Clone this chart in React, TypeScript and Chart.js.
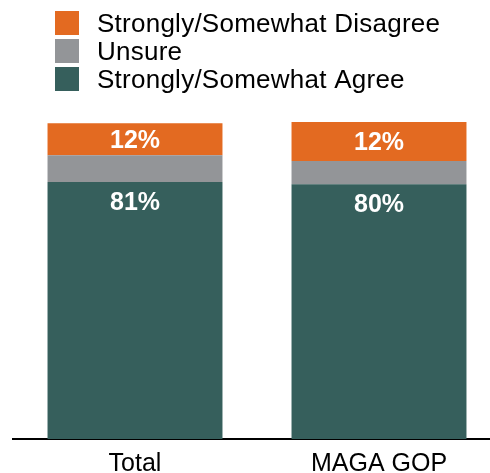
import React, { useEffect, useRef } from "react";
import { Chart, registerables } from "chart.js";

Chart.register(...registerables);

const categories = ["Total", "MAGA GOP"];
const agreeValues = [81.1, 80.4];
const unsureValues = [8.4, 7.3];
const disagreeValues = [10.1, 12.7];
const agreeLabels = ["81%", "80%"];
const disagreeLabels = ["12%", "12%"];
const seriesNames = ["Strongly/Somewhat Agree", "Unsure", "Strongly/Somewhat Disagree"];
const seriesColors = ["#365F5C", "#939598", "#E36A21"];

const FONT = '"Liberation Sans", Arial, Helvetica, sans-serif';

const CANVAS_W = 510;
const CANVAS_H = 491;

const legendPlugin = {
  id: "customLegend",
  afterDraw(chart: any) {
    const ctx = chart.ctx;
    ctx.save();
    const order = [2, 1, 0];
    order.forEach((dsIndex, i) => {
      const top = 11 + i * 28;
      ctx.fillStyle = seriesColors[dsIndex];
      ctx.fillRect(55, top, 24, 24);
      ctx.fillStyle = "#000000";
      ctx.font = `26px ${FONT}`;
      try {
        (ctx as any).letterSpacing = "0.25px";
      } catch (e) {}
      ctx.textAlign = "left";
      ctx.textBaseline = "alphabetic";
      ctx.fillText(seriesNames[dsIndex], 97, top + 21);
    });
    ctx.restore();
  },
};

const valueLabelPlugin = {
  id: "valueLabels",
  afterDatasetsDraw(chart: any) {
    const ctx = chart.ctx;
    ctx.save();
    ctx.fillStyle = "#FFFFFF";
    ctx.font = `bold 25px ${FONT}`;
    ctx.textAlign = "center";
    ctx.textBaseline = "alphabetic";
    const agreeMeta = chart.getDatasetMeta(0);
    agreeMeta.data.forEach((el: any, i: number) => {
      ctx.fillText(agreeLabels[i], el.x, el.y + 28);
    });
    const disMeta = chart.getDatasetMeta(2);
    disMeta.data.forEach((el: any, i: number) => {
      const c = (el.y + el.base) / 2;
      ctx.fillText(disagreeLabels[i], el.x, c + 9);
    });
    ctx.restore();
  },
};

export default function App() {
  const canvasRef = useRef<HTMLCanvasElement | null>(null);

  useEffect(() => {
    document.body.style.overflow = "hidden";
    const canvas = canvasRef.current;
    if (!canvas) return;
    const chart = new Chart(canvas, {
      type: "bar",
      data: {
        labels: categories,
        datasets: [
          { label: seriesNames[0], data: agreeValues, backgroundColor: seriesColors[0] },
          { label: seriesNames[1], data: unsureValues, backgroundColor: seriesColors[1] },
          { label: seriesNames[2], data: disagreeValues, backgroundColor: seriesColors[2] },
        ],
      },
      options: {
        responsive: false,
        animation: false,
        devicePixelRatio: 1,
        layout: { padding: { top: 122, left: 13, right: 9, bottom: 2 } },
        datasets: {
          bar: {
            categoryPercentage: 1,
            barPercentage: 0.717,
            borderWidth: 0,
          },
        },
        plugins: {
          legend: { display: false },
          tooltip: { enabled: false },
          title: { display: false },
        },
        scales: {
          x: {
            stacked: true,
            grid: { display: false, drawTicks: false },
            border: { display: true, color: "#000000", width: 2 },
            ticks: {
              color: "#000000",
              padding: 10,
              font: { family: FONT, size: 25 },
            },
          },
          y: {
            stacked: true,
            display: false,
            min: 0,
            max: 100,
          },
        },
      },
      plugins: [legendPlugin, valueLabelPlugin],
    });
    return () => chart.destroy();
  }, []);

  return (
    <div style={{ position: "absolute", left: 0, top: 0, width: CANVAS_W, height: CANVAS_H }}>
      <canvas
        ref={canvasRef}
        width={CANVAS_W}
        height={CANVAS_H}
        style={{ width: CANVAS_W, height: CANVAS_H, display: "block" }}
      />
    </div>
  );
}
